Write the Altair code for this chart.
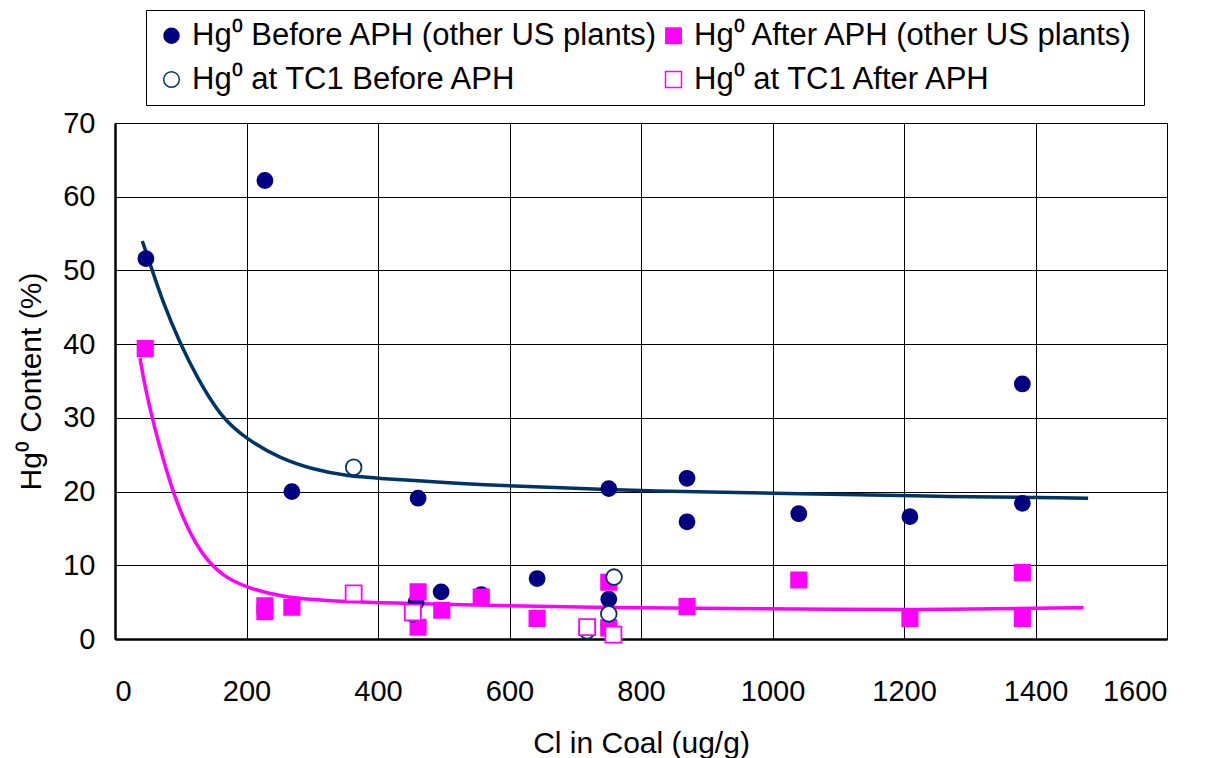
import altair as alt
import pandas as pd

S1 = "Hg⁰ Before APH (other US plants)"
S2 = "Hg⁰ After APH (other US plants)"
S3 = "Hg⁰ at TC1 Before APH"
S4 = "Hg⁰ at TC1 After APH"
series_order = [S1, S2, S3, S4]

before_x = [47, 228, 269, 461, 458, 496, 557, 642, 751, 751, 751, 870, 870, 1040, 1209, 1380, 1380]
before_y = [51.6, 62.2, 20.0, 19.1, 5.0, 6.4, 6.0, 8.2, 5.4, 1.9, 20.4, 21.8, 15.9, 17.0, 16.6, 34.6, 18.4]

after_x = [46, 228, 228, 269, 461, 461, 497, 557, 642, 751, 751, 870, 1040, 1209, 1380, 1380]
after_y = [39.4, 4.5, 3.7, 4.3, 6.4, 1.6, 3.9, 5.7, 2.8, 7.7, 1.5, 4.4, 8.0, 2.8, 9.0, 2.8]

tc1_before_x = [363, 453, 718, 751, 759]
tc1_before_y = [23.3, 3.4, 1.1, 3.4, 8.4]

tc1_after_x = [363, 453, 718, 758]
tc1_after_y = [6.2, 3.6, 1.6, 0.6]

curve_before_x = [41.5, 53, 73.5, 99, 124, 160, 200, 251, 302, 352, 418, 555, 738, 801, 1001, 1204, 1480]
curve_before_y = [54.0, 51.0, 45.5, 40.1, 35.6, 30.2, 27.1, 24.5, 23.0, 22.1, 21.7, 20.9, 20.3, 20.1, 19.8, 19.4, 19.1]

curve_after_x = [38, 45.6, 58.3, 73.5, 88.7, 109, 134, 165, 200, 251, 327, 555, 738, 1001, 1204, 1473]
curve_after_y = [38.1, 34.2, 29.3, 24.3, 19.8, 15.2, 11.2, 8.45, 7.0, 5.74, 5.06, 4.6, 4.25, 4.1, 3.93, 4.25]

rows = []
for s, xs, ys in [(S1, before_x, before_y), (S2, after_x, after_y),
                  (S3, tc1_before_x, tc1_before_y), (S4, tc1_after_x, tc1_after_y)]:
    for a, b in zip(xs, ys):
        rows.append({"series": s, "cl": a, "hg": b})
pts = pd.DataFrame(rows)

cb = pd.DataFrame({"cl": curve_before_x, "hg": curve_before_y})
ca = pd.DataFrame({"cl": curve_after_x, "hg": curve_after_y})

FONT = "Liberation Sans"

xscale = alt.Scale(domain=[0, 1600], nice=False)
yscale = alt.Scale(domain=[0, 70], nice=False)

xaxis = alt.Axis(values=list(range(0, 1601, 200)), title="Cl in Coal (ug/g)", format="d",
                 labelFontSize=29, titleFontSize=30, labelPadding=38, titlePadding=22,
                 ticks=False, grid=True, gridColor="black", gridWidth=1,
                 domainColor="black", domainWidth=2.5, labelColor="black", titleColor="black",
                 titleFontWeight="normal", labelFont=FONT, titleFont=FONT)
yaxis = alt.Axis(values=list(range(0, 71, 10)), title="Hg⁰ Content (%)", format="d",
                 labelFontSize=29, titleFontSize=30, labelPadding=20, titlePadding=16,
                 ticks=False, grid=True, gridColor="black", gridWidth=1,
                 domainColor="black", domainWidth=2.5, labelColor="black", titleColor="black",
                 titleFontWeight="normal", labelFont=FONT, titleFont=FONT)

line_b = alt.Chart(cb).mark_line(color="#003366", strokeWidth=3.5, interpolate="basis").encode(
    x=alt.X("cl:Q", scale=xscale, axis=xaxis),
    y=alt.Y("hg:Q", scale=yscale, axis=yaxis),
)
line_a = alt.Chart(ca).mark_line(color="#FF00FF", strokeWidth=3.5, interpolate="basis").encode(
    x=alt.X("cl:Q", scale=xscale),
    y=alt.Y("hg:Q", scale=yscale),
)

points = alt.Chart(pts).mark_point(opacity=1, strokeWidth=1.8, filled=False).encode(
    x=alt.X("cl:Q", scale=xscale),
    y=alt.Y("hg:Q", scale=yscale),
    shape=alt.Shape("series:N", scale=alt.Scale(domain=series_order,
                    range=["circle", "square", "circle", "square"]), title=None),
    fill=alt.Fill("series:N", scale=alt.Scale(domain=series_order,
                  range=["#000080", "#FF00FF", "#FFFFFF", "#FFFFFF"]), title=None),
    color=alt.Color("series:N", scale=alt.Scale(domain=series_order,
                    range=["#000080", "#FF00FF", "#003366", "#FF00FF"]), title=None),
    size=alt.Size("series:N", scale=alt.Scale(domain=series_order,
                  range=[225, 256, 180, 175]), title=None),
)

chart = alt.layer(line_b, line_a, points).properties(
    width=1052, height=516,
    autosize=alt.AutoSizeParams(type="none"),
    padding={"left": 115, "top": 123, "right": 47, "bottom": 119},
    background="white",
).configure_view(
    stroke="black", strokeWidth=1
).configure_legend(
    orient="none", legendX=31, legendY=-113, direction="horizontal", columns=2,
    strokeColor="black", strokeWidth=1, padding=10, fillColor="white",
    labelFontSize=31, labelFont=FONT, labelColor="black", labelLimit=600,
    symbolSize=150, symbolStrokeWidth=1.5, labelOffset=5,
    rowPadding=12, columnPadding=-34, symbolType="circle"
)

chart.save("out.html", embed_options={"renderer": "svg", "actions": False})
